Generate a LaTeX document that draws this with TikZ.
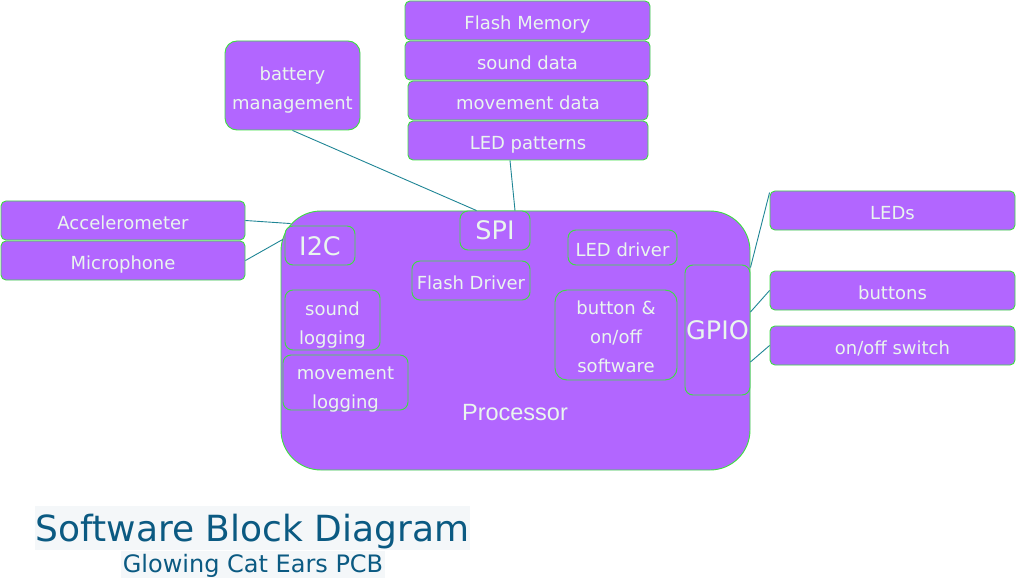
\documentclass[tikz,border=0pt]{standalone}
\usepackage{fontspec}
\setmainfont{DejaVu Sans}
\newfontfamily\procfont{Liberation Sans}
\usetikzlibrary{calc}
\definecolor{boxfill}{HTML}{B266FF}
\definecolor{boxline}{HTML}{3CE040}
\definecolor{boxtext}{HTML}{E9F6EE}
\definecolor{wire}{HTML}{1F8595}
\definecolor{titletext}{HTML}{0B5A82}
\definecolor{titlebg}{HTML}{F4F7F9}
\newcommand\mystrut{\rule[-5pt]{0pt}{28pt}}
\newcommand\tailstrut{\rule[-5pt]{0pt}{5pt}}
\newcommand\bigstrut{\rule[-5pt]{0pt}{29pt}}
\newcommand\lift[1]{\rule{0pt}{#1pt}}
\tikzset{
  blk/.style={draw=boxline, fill=boxfill, text=boxtext, line width=0.9pt, rounded corners=5, inner sep=0pt, align=center, font=\fontsize{18}{29}\selectfont, execute at begin node=\mystrut, execute at end node=\tailstrut},
  inner/.style={blk, rounded corners=8},
  bigtext/.style={font=\fontsize{25.5}{29}\selectfont, execute at begin node=\bigstrut},
  conn/.style={draw=wire, line width=0.9pt},
}
\begin{document}
\begin{tikzpicture}[x=1pt,y=-1pt]
\useasboundingbox (0,0) rectangle (1017,580);
% processor
\node[blk, rounded corners=40, minimum width=469, minimum height=259] (proc) at (515.5,340.5) {};
\node[text=boxtext, inner sep=0pt, font=\procfont\fontsize{23.5}{26}\selectfont] (plabel) at (515,412.5) {Processor};
% inner blocks
\node[inner, bigtext, minimum width=70, minimum height=39] (spi) at (495,230.5) {SPI};
\node[inner, bigtext, minimum width=70, minimum height=39] (i2c) at (320,245.5) {I2C};
\node[inner, minimum width=118, minimum height=39] (fd) at (471,280.5) {Flash Driver};
\node[inner, minimum width=109, minimum height=35] (ledd) at (622.5,247.5) {LED driver};
\node[inner, minimum width=95, minimum height=60] (sl) at (332.5,320) {\lift{24}sound\\logging};
\node[inner, minimum width=125, minimum height=55, text height=53.6pt, text depth=1.2pt] (ml) at (345.5,382.5) {\lift{28}movement\\logging};
\node[inner, rounded corners=12, minimum width=122, minimum height=90] (bos) at (616,335) {\lift{22}button \&\\on/off\\software};
\node[inner, bigtext, minimum width=65, minimum height=130] (gpio) at (717.5,330) {GPIO};
% memory stack
\node[blk, minimum width=245, minimum height=39] (fm) at (527.5,20.5) {Flash Memory};
\node[blk, minimum width=245, minimum height=39] (sd) at (527.5,60.5) {sound data};
\node[blk, minimum width=240, minimum height=39] (md) at (528,100.5) {movement data};
\node[blk, minimum width=240, minimum height=39] (lp) at (528,140.5) {LED patterns};
% battery
\node[blk, rounded corners=12, minimum width=135, minimum height=89] (bat) at (292.5,85.5) {\lift{24}battery\\management};
% sensors
\node[blk, minimum width=244, minimum height=39] (acc) at (123,220.5) {Accelerometer};
\node[blk, minimum width=244, minimum height=39] (mic) at (123,260.5) {Microphone};
% outputs
\node[blk, minimum width=245, minimum height=39] (leds) at (892.5,210.5) {LEDs};
\node[blk, minimum width=245, minimum height=39] (btn) at (892.5,290.5) {buttons};
\node[blk, minimum width=245, minimum height=39] (sw) at (892.5,345.5) {on/off switch};
% connectors
\draw[conn] (bat.south) -- ($(spi.north west)+(17,0)$);
\draw[conn] ($(lp.south)+(-18,0)$) -- ($(spi.north)+(20,0)$);
\draw[conn] (acc.east) -- ($(proc.north west)+(10,13)$);
\draw[conn] (mic.east) -- ($(proc.north west)+(2,29)$);
\draw[conn] ($(leds.north west)+(0,2)$) -- ($(gpio.north east)+(0,3)$);
\draw[conn] (btn.west) -- ($(gpio.east)+(0,-18)$);
\draw[conn] (sw.west) -- ($(gpio.east)+(0,32)$);
% title
\node[fill=titlebg, text=titletext, minimum width=435, minimum height=44, inner sep=0pt, font=\fontsize{36}{40}\selectfont] (title) at (252.5,528) {\rule[-6pt]{0pt}{40pt}Software Block Diagram};
\node[fill=titlebg, text=titletext, minimum width=264, minimum height=27, inner sep=0pt, font=\fontsize{24}{26}\selectfont] (subtitle) at (253,564.5) {\rule[-5pt]{0pt}{25pt}Glowing Cat Ears PCB};
\end{tikzpicture}
\end{document}
